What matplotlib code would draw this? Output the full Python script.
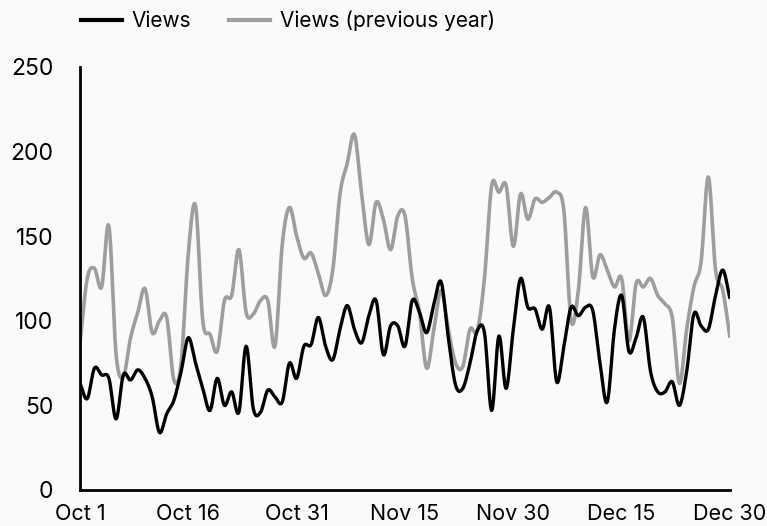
import numpy as np
import matplotlib
matplotlib.use("Agg")
import matplotlib.pyplot as plt
from matplotlib.lines import Line2D

# daily values, Oct 1 .. Dec 30
views = [63, 54, 72, 68, 66, 42, 68, 65, 71, 66, 55, 34, 45, 53, 70, 90, 75, 60, 47, 66,
         50, 58, 46, 85, 48, 46, 59, 55, 52, 75, 66, 85, 86, 102, 85, 77, 95, 109, 95, 87,
         103, 112, 80, 97, 97, 85, 112, 105, 93, 110, 123, 90, 62, 60, 75, 94, 93, 47, 91, 60,
         95, 125, 108, 107, 95, 108, 64, 85, 108, 103, 108, 106, 75, 52, 95, 115, 82, 90, 102, 70,
         58, 58, 64, 50, 70, 104, 97, 95, 115, 130, 113]
prev_year = [87, 125, 131, 120, 156, 80, 67, 90, 105, 119, 93, 100, 102, 65, 75, 140, 168, 100, 92, 82,
             112, 115, 142, 105, 104, 112, 112, 85, 145, 167, 150, 137, 140, 128, 115, 130, 175, 193, 210, 175,
             145, 170, 160, 142, 162, 162, 125, 105, 72, 95, 118, 95, 75, 73, 95, 94, 125, 180, 176, 180,
             144, 175, 160, 172, 170, 173, 176, 165, 100, 118, 167, 126, 139, 130, 120, 125, 88, 122, 120, 125,
             115, 110, 102, 63, 95, 120, 135, 185, 130, 118, 90]
tick_labels = ["Oct 1", "Oct 16", "Oct 31", "Nov 15", "Nov 30", "Dec 15", "Dec 30"]


def smooth(y, n=12):
    # catmull-rom through the daily points
    y = np.asarray(y, dtype=float)
    p = np.concatenate([[2 * y[0] - y[1]], y, [2 * y[-1] - y[-2]]])
    xs, ys = [], []
    t = np.linspace(0, 1, n, endpoint=False)
    for i in range(len(y) - 1):
        p0, p1, p2, p3 = p[i], p[i + 1], p[i + 2], p[i + 3]
        v = 0.5 * ((2 * p1) + (-p0 + p2) * t + (2 * p0 - 5 * p1 + 4 * p2 - p3) * t ** 2
                   + (-p0 + 3 * p1 - 3 * p2 + p3) * t ** 3)
        xs.append(i + t)
        ys.append(v)
    xs.append([len(y) - 1])
    ys.append([y[-1]])
    return np.concatenate(xs), np.concatenate(ys)


plt.rcParams['font.family'] = ['Inter', 'DejaVu Sans']
bg = '#fafafa'

fig = plt.figure(figsize=(7.67, 5.26), dpi=100, facecolor=bg)
ax = fig.add_axes([80 / 767, 1 - 490 / 526, 650 / 767, 423 / 526])
ax.set_facecolor(bg)

xg, yg = smooth(prev_year)
xb, yb = smooth(views)
ax.plot(xg, yg, color='#9e9e9e', lw=2.6, solid_capstyle='butt')
ax.plot(xb, yb, color='black', lw=2.4, solid_capstyle='butt')

ax.set_xlim(0, 90)
ax.set_ylim(0, 250)
ax.set_xticks(range(0, 91, 15))
ax.set_xticklabels(tick_labels)
ax.set_yticks(range(0, 251, 50))
ax.tick_params(length=0, labelsize=16.5, colors='black')
ax.tick_params(axis='x', pad=10, labelsize=15.5)
ax.tick_params(axis='y', pad=19)
ax.spines['top'].set_visible(False)
ax.spines['right'].set_visible(False)
ax.spines['left'].set_linewidth(2)
ax.spines['bottom'].set_linewidth(2)

handles = [Line2D([], [], color='black', lw=3),
           Line2D([], [], color='#9e9e9e', lw=3)]
fig.legend(handles, ["Views", "Views (previous year)"], loc='center left',
           bbox_to_anchor=(62 / 767, 1 - 21 / 526), ncol=2, frameon=False,
           fontsize=15, handlelength=2.0, handletextpad=0.45, columnspacing=1.8)

fig.savefig('out.png', dpi=100, facecolor=bg)
